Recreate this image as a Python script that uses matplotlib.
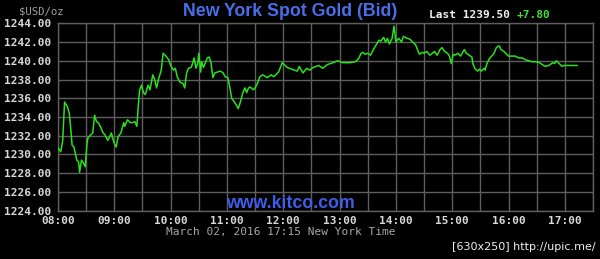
import matplotlib
matplotlib.use("Agg")
import matplotlib.pyplot as plt
import matplotlib.transforms as mtransforms
import numpy as np

# Minutes after 08:00 (New York time) and bid price in USD/oz
minutes = [0, 3, 5, 7, 10, 12, 14, 15, 17, 20, 22, 23, 25, 27, 29, 31, 32, 35, 37, 39,
           41, 43, 46, 48, 50, 53, 55, 57, 58, 60, 62, 64, 67, 70, 71, 74, 77, 79, 82, 84,
           86, 87, 89, 91, 93, 96, 98, 101, 103, 105, 107, 110, 112, 115, 118, 120, 123, 125, 127, 130,
           133, 135, 137, 139, 142, 144, 145, 147, 149, 150, 152, 153, 155, 157, 159, 161, 163, 165, 167, 170,
           173, 176, 178, 181, 183, 185, 188, 191, 192, 194, 197, 199, 201, 202, 204, 206, 208, 210, 213, 215,
           218, 223, 227, 230, 235, 239, 244, 249, 255, 257, 261, 265, 268, 272, 278, 282, 287, 293, 298, 303,
           307, 311, 317, 320, 323, 325, 327, 330, 333, 336, 339, 342, 344, 347, 349, 351, 353, 356, 358, 360,
           363, 366, 368, 372, 375, 379, 381, 383, 385, 388, 390, 393, 396, 399, 401, 404, 407, 409, 412, 415,
           417, 419, 421, 423, 426, 429, 431, 433, 435, 438, 441, 442, 444, 447, 449, 451, 454, 455, 457, 460,
           463, 465, 467, 470, 472, 475, 478, 480, 484, 487, 491, 495, 498, 502, 505, 509, 513, 516, 519, 523,
           527, 529, 531, 533, 535, 537, 539, 553]
prices = [1230.7, 1230.3, 1231.5, 1235.6, 1235.1, 1234.4, 1232.3, 1231.0, 1230.8, 1229.4,
          1229.2, 1228.1, 1229.4, 1229.1, 1228.7, 1231.3, 1231.8, 1232.1, 1232.3, 1234.2,
          1233.5, 1233.4, 1232.8, 1232.3, 1232.1, 1231.5, 1231.9, 1232.3, 1231.8, 1231.2,
          1230.8, 1231.9, 1232.3, 1233.4, 1233.0, 1233.7, 1233.4, 1233.4, 1233.5, 1233.0,
          1235.8, 1236.9, 1237.4, 1236.6, 1236.4, 1237.4, 1236.9, 1238.5, 1238.0, 1237.1,
          1238.0, 1239.0, 1240.8, 1240.5, 1240.1, 1239.5, 1239.0, 1239.2, 1238.3, 1237.7,
          1237.6, 1237.1, 1238.7, 1239.2, 1239.3, 1239.9, 1240.3, 1239.2, 1239.8, 1240.8,
          1238.8, 1239.9, 1239.3, 1239.8, 1240.3, 1240.4, 1239.8, 1238.2, 1238.7, 1238.8,
          1238.9, 1238.7, 1238.3, 1238.2, 1237.2, 1236.0, 1235.6, 1235.1, 1234.9, 1235.5,
          1236.6, 1237.1, 1236.6, 1236.9, 1237.2, 1237.1, 1236.9, 1237.1, 1237.7, 1238.3,
          1238.5, 1238.2, 1238.5, 1238.3, 1238.8, 1239.8, 1239.3, 1239.1, 1238.9, 1239.4,
          1238.7, 1239.2, 1239.0, 1239.3, 1239.5, 1239.2, 1239.6, 1239.8, 1240.0, 1239.8,
          1239.8, 1239.8, 1239.9, 1240.2, 1240.8, 1240.9, 1240.7, 1240.8, 1240.6, 1241.2,
          1241.7, 1242.2, 1242.1, 1242.5, 1242.0, 1242.4, 1241.8, 1242.4, 1243.7, 1242.0,
          1242.4, 1242.0, 1242.6, 1242.4, 1242.3, 1241.9, 1241.7, 1241.2, 1240.7, 1240.9,
          1240.8, 1241.0, 1240.6, 1240.8, 1241.0, 1240.6, 1241.2, 1241.4, 1241.0, 1240.8,
          1240.5, 1239.7, 1240.7, 1240.6, 1240.8, 1240.5, 1240.9, 1241.2, 1240.8, 1240.6,
          1240.4, 1239.7, 1239.2, 1238.9, 1239.1, 1238.9, 1239.2, 1239.0, 1239.7, 1240.3,
          1240.6, 1240.9, 1241.4, 1241.6, 1241.2, 1241.0, 1240.7, 1240.5, 1240.5, 1240.5,
          1240.3, 1240.3, 1240.1, 1240.0, 1239.9, 1239.9, 1239.8, 1239.6, 1239.4, 1239.5,
          1239.8, 1239.7, 1240.0, 1239.8, 1239.6, 1239.4, 1239.5, 1239.5]

hour_labels = ["08:00", "09:00", "10:00", "11:00", "12:00", "13:00", "14:00", "15:00", "16:00", "17:00"]
price_ticks = [1224, 1226, 1228, 1230, 1232, 1234, 1236, 1238, 1240, 1242, 1244]

title = "New York Spot Gold (Bid)"
last_price = "1239.50"
change = "+7.80"
footer = "March 02, 2016 17:15 New York Time"

x_hours = np.array(minutes) / 60.0 + 8.0

W, H = 600, 259
fig = plt.figure(figsize=(6.0, 2.59), dpi=100, facecolor="black")
ax = fig.add_axes([58 / W, 1 - 210.7 / H, (593 - 58) / W, (210.7 - 23.3) / H])
ax.set_facecolor("black")

ax.plot(x_hours, prices, color="#2ae01c", lw=1.1, zorder=3)

ax.set_xlim(8.0, 17.5)
ax.set_ylim(1224, 1244)
ax.set_xticks(np.arange(8.0, 17.51, 0.5))
ax.set_xticklabels([])
ax.set_yticks(price_ticks)
ax.set_yticklabels([f"{v:.2f}" for v in price_ticks])
ax.grid(True, color="#5e5e5e", lw=1.0, zorder=1)
ax.tick_params(axis="both", length=0, colors="#d8d8d8", labelsize=8, pad=5)
for lab in ax.get_yticklabels():
    lab.set_fontfamily("DejaVu Sans Mono")
    lab.set_fontweight("bold")
for s in ax.spines.values():
    s.set_color("#5e5e5e")
    s.set_linewidth(1.0)

xfig = mtransforms.blended_transform_factory(ax.transData, fig.transFigure)
for i, lab in enumerate(hour_labels):
    ax.text(8.0 + i, 1 - 220.5 / H, lab, transform=xfig, clip_on=False,
            ha="center", va="center", fontsize=8, family="DejaVu Sans Mono",
            fontweight="bold", color="#d8d8d8")

fig.text(19 / W, 1 - 11 / H, "$USD/oz", ha="left", va="center", fontsize=7.7,
         family="DejaVu Sans Mono", color="#a0a0a0")
fig.text(290 / W, 1 - 12 / H, title, ha="center", va="center", fontsize=12.8,
         family="Liberation Sans", fontweight="bold", color="#4a6ee8")
fig.text(429 / W, 1 - 15 / H, "Last " + last_price, ha="left", va="center", fontsize=8,
         family="DejaVu Sans Mono", fontweight="bold", color="#f0f0f0")
fig.text(517 / W, 1 - 15 / H, change, ha="left", va="center", fontsize=8,
         family="DejaVu Sans Mono", fontweight="bold", color="#3ee03a")
fig.text(290 / W, 1 - 204 / H, "www.kitco.com", ha="center", va="center", fontsize=12.8,
         family="Liberation Sans", fontweight="bold", color="#3f5ee8")
fig.text(281 / W, 1 - 232 / H, footer, ha="center", va="center", fontsize=8,
         family="DejaVu Sans Mono", color="#a8a8a8")
fig.text(596 / W, 1 - 247 / H, "[630x250] http://upic.me/", ha="right", va="center",
         fontsize=8, family="DejaVu Sans", color="#f0f0f0")

fig.savefig("out.png", dpi=100, facecolor="black")
